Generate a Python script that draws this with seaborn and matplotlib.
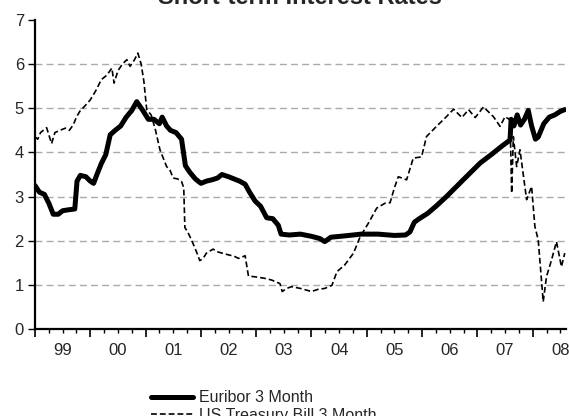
import numpy as np
import pandas as pd
import matplotlib
matplotlib.use("Agg")
import matplotlib.pyplot as plt
import seaborn as sns
from matplotlib.ticker import FixedLocator, FixedFormatter, NullFormatter

# Euribor 3 month (time in decimal years, rate in %)
euribor_t = [1999.0, 1999.08, 1999.17, 1999.25, 1999.33, 1999.42, 1999.5, 1999.6, 1999.72, 1999.76,
             1999.82, 1999.92, 2000.0, 2000.06, 2000.12, 2000.2, 2000.28, 2000.36, 2000.45, 2000.55,
             2000.65, 2000.75, 2000.84, 2000.95, 2001.05, 2001.15, 2001.25, 2001.3, 2001.38, 2001.45,
             2001.55, 2001.65, 2001.72, 2001.8, 2001.9, 2002.0, 2002.1, 2002.2, 2002.3, 2002.38,
             2002.5, 2002.6, 2002.7, 2002.8, 2002.88, 2002.98, 2003.08, 2003.19, 2003.3, 2003.4,
             2003.45, 2003.6, 2003.8, 2004.0, 2004.15, 2004.24, 2004.35, 2004.6, 2004.9, 2005.2,
             2005.5, 2005.7, 2005.78, 2005.86, 2005.95, 2006.1, 2006.25, 2006.44, 2006.6, 2006.8,
             2007.05, 2007.25, 2007.45, 2007.59, 2007.61, 2007.66, 2007.72, 2007.78, 2007.85, 2007.92,
             2007.98, 2008.05, 2008.1, 2008.2, 2008.3, 2008.4, 2008.5, 2008.58]
euribor_v = [3.25, 3.1, 3.05, 2.85, 2.6, 2.6, 2.68, 2.7, 2.72, 3.35,
             3.48, 3.45, 3.35, 3.3, 3.5, 3.75, 3.95, 4.4, 4.5, 4.6,
             4.8, 4.95, 5.15, 4.95, 4.75, 4.75, 4.65, 4.8, 4.6, 4.5,
             4.45, 4.3, 3.7, 3.55, 3.4, 3.3, 3.35, 3.38, 3.42, 3.5,
             3.45, 3.4, 3.35, 3.28, 3.1, 2.9, 2.78, 2.52, 2.5, 2.35,
             2.15, 2.13, 2.15, 2.1, 2.05, 1.98, 2.08, 2.11, 2.15, 2.15,
             2.12, 2.13, 2.2, 2.42, 2.5, 2.62, 2.78, 3.0, 3.2, 3.45,
             3.76, 3.95, 4.15, 4.28, 4.75, 4.6, 4.85, 4.62, 4.75, 4.95,
             4.6, 4.3, 4.35, 4.65, 4.8, 4.85, 4.93, 4.97]

# US Treasury Bill 3 month
tbill_t = [1999.0, 1999.05, 1999.1, 1999.21, 1999.3, 1999.36, 1999.45, 1999.55, 1999.62, 1999.69,
           1999.75, 1999.81, 1999.9, 2000.0, 2000.1, 2000.2, 2000.3, 2000.39, 2000.43, 2000.5,
           2000.58, 2000.66, 2000.72, 2000.8, 2000.86, 2000.92, 2000.97, 2001.02, 2001.1, 2001.18,
           2001.26, 2001.38, 2001.44, 2001.5, 2001.58, 2001.65, 2001.69, 2001.71, 2001.76, 2001.83,
           2001.92, 2001.98, 2002.04, 2002.1, 2002.22, 2002.3, 2002.38, 2002.5, 2002.6, 2002.68,
           2002.8, 2002.86, 2003.0, 2003.15, 2003.28, 2003.43, 2003.47, 2003.55, 2003.64, 2003.8,
           2004.0, 2004.12, 2004.24, 2004.37, 2004.46, 2004.6, 2004.76, 2004.88, 2005.03, 2005.18,
           2005.33, 2005.42, 2005.5, 2005.57, 2005.72, 2005.84, 2005.99, 2006.08, 2006.26, 2006.44,
           2006.57, 2006.72, 2006.84, 2006.96, 2007.11, 2007.29, 2007.41, 2007.5, 2007.59, 2007.62,
           2007.65, 2007.71, 2007.77, 2007.89, 2007.98, 2008.04, 2008.1, 2008.19, 2008.25, 2008.34,
           2008.43, 2008.52, 2008.58]
tbill_v = [4.35, 4.3, 4.45, 4.56, 4.2, 4.45, 4.5, 4.55, 4.5, 4.62,
           4.8, 4.93, 5.05, 5.19, 5.4, 5.65, 5.75, 5.91, 5.57, 5.85,
           6.0, 6.1, 5.95, 6.1, 6.25, 6.0, 5.6, 4.97, 4.85, 4.5,
           4.06, 3.68, 3.6, 3.42, 3.4, 3.34, 3.2, 2.3, 2.2, 2.02,
           1.75, 1.55, 1.6, 1.72, 1.81, 1.75, 1.72, 1.68, 1.65, 1.6,
           1.66, 1.2, 1.18, 1.15, 1.11, 1.03, 0.85, 0.92, 0.96, 0.92,
           0.85, 0.9, 0.92, 0.99, 1.3, 1.45, 1.72, 2.09, 2.4, 2.74,
           2.85, 2.86, 3.2, 3.45, 3.38, 3.87, 3.9, 4.36, 4.59, 4.81,
           4.98, 4.79, 4.97, 4.79, 5.03, 4.81, 4.59, 4.81, 4.74, 3.08,
           4.36, 3.68, 4.06, 2.93, 3.23, 2.32, 2.02, 0.62, 1.19, 1.56,
           1.98, 1.41, 1.72]

years = list(range(1999, 2009))
year_labels = ["99", "00", "01", "02", "03", "04", "05", "06", "07", "08"]

sns.set_style("white")
plt.rcParams["font.family"] = ["Liberation Sans", "DejaVu Sans"]

df_eur = pd.DataFrame({"t": euribor_t, "rate": euribor_v})
df_us = pd.DataFrame({"t": tbill_t, "rate": tbill_v})

fig = plt.figure(figsize=(5.69, 4.16), dpi=100)
ax = fig.add_axes([0.0615, 0.209, 0.933, 0.743])

sns.lineplot(data=df_eur, x="t", y="rate", ax=ax, color="black", linewidth=3.6,
             label="Euribor 3 Month", legend=False)
sns.lineplot(data=df_us, x="t", y="rate", ax=ax, color="black", linewidth=1.2,
             linestyle=(0, (3.5, 1.8)), label="US Treasury Bill 3 Month", legend=False)

ax.set_xlim(1999.0, 2008.6)
ax.set_ylim(0, 7)
ax.set_xlabel("")
ax.set_ylabel("")

# y grid, dashed grey
ax.set_yticks(range(0, 8))
for v in range(1, 7):
    ax.axhline(v, color="#aaaaaa", linestyle=(0, (5, 3)), linewidth=1.0, zorder=0)

# x ticks: year boundaries major, quarters minor, labels mid-year
ax.xaxis.set_major_locator(FixedLocator(years))
ax.xaxis.set_major_formatter(NullFormatter())
minor_pos = [y + q for y in years for q in (0.25, 0.5, 0.75)]
minor_lab = []
for i, y in enumerate(years):
    minor_lab += ["", year_labels[i], ""]
ax.xaxis.set_minor_locator(FixedLocator(minor_pos))
ax.xaxis.set_minor_formatter(FixedFormatter(minor_lab))
ax.tick_params(axis="x", which="both", bottom=True)
ax.tick_params(axis="y", which="both", left=True)
ax.tick_params(axis="x", which="major", length=6, width=1.2, color="black", direction="out")
ax.tick_params(axis="x", which="minor", length=3, width=1.0, color="black", direction="out",
               labelsize=12, pad=7)
ax.tick_params(axis="y", length=5, width=1.0, color="black", direction="out", labelsize=12, pad=3)

for s in ["top", "right"]:
    ax.spines[s].set_visible(False)
for s in ["left", "bottom"]:
    ax.spines[s].set_color("black")
    ax.spines[s].set_linewidth(1.6)

# title sits mostly above the canvas, as in the source image
fig.text(0.527, 0.991, "Short-term Interest Rates", ha="center", va="baseline",
         fontsize=17, fontweight="bold")

handles, labels = ax.get_legend_handles_labels()
fig.legend(handles, labels, loc="upper left", bbox_to_anchor=(0.255, 0.077), frameon=False,
           fontsize=11.5, handlelength=2.6, handletextpad=0.4, labelspacing=0.15, borderaxespad=0)

fig.savefig("out.png", dpi=100)
